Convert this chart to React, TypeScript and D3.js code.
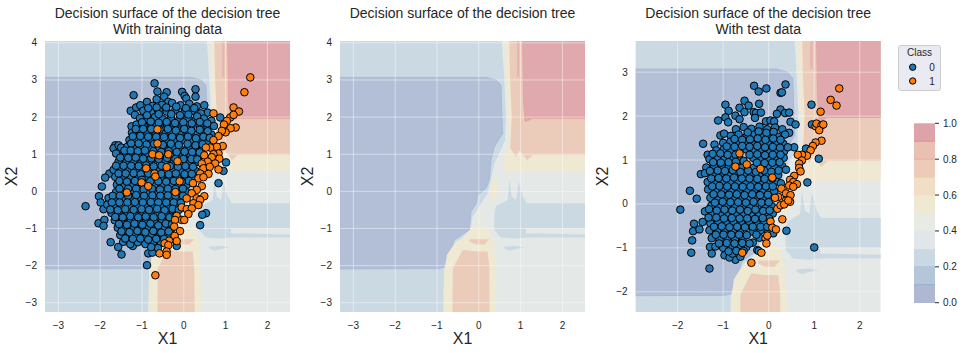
import React from "react";
import * as d3 from "d3";

type P = [number, number];

const xTicksTrain = [-3, -2, -1, 0, 1, 2];
const yTicksTrain = [-3, -2, -1, 0, 1, 2, 3, 4];
const xTicksTest = [-2, -1, 0, 1, 2];
const yTicksTest = [-2, -1, 0, 1, 2, 3];
const barTicks = [0, 0.2, 0.4, 0.6, 0.8, 1];
const barLevels = [0, 0.1, 0.2, 0.3, 0.4, 0.5, 0.6, 0.7, 0.8, 0.9, 1];
const barColors = ["#aeb8d3", "#b6c6d9", "#cad8e3", "#e1e7e8", "#e8eae4", "#efe9d3", "#f0dfc6", "#ecccb9", "#e9c1b3", "#dda3a9"];
const barLines: [number, string][] = [[0.1, "#96acd2"], [0.2, "#a8c0d8"], [0.7, "#f2cfa5"], [0.8, "#f0ac98"], [0.9, "#e48f90"]];

const C = { base: "#e4e8e7", lightBlue: "#cbd9e3", darkBlue: "#b2bfd7", cream: "#efe8d2", peach: "#ebcbb9", red: "#e0a9ad", redEdge: "#e6a39f" };

const surfLightBlue: P[] = [[0.55, 4.05], [0.61, 3.0], [0.65, 2.01], [0.63, 1.38], [0.49, 1.02], [0.37, 0.75], [0.29, 0.31], [0.21, -0.05], [0.01, -0.41], [-0.15, -0.68], [-0.19, -1.0], [-0.43, -1.29], [-0.51, -1.33], [-0.59, -1.67], [-0.75, -1.76], [-0.83, -2.12], [-0.84, -3.25], [-3.32, -3.25], [-3.32, 4.05]];
const surfDarkBlue: P[] = [[-3.32, 3.07], [0.17, 3.07], [0.41, 3.0], [0.53, 2.86], [0.55, 2.1], [0.57, 1.56], [0.37, 1.2], [0.29, 0.84], [0.25, 0.31], [0.17, 0.08], [-0.03, -0.1], [-0.06, -0.32], [-0.19, -0.55], [-0.23, -1.04], [-0.59, -1.31], [-0.67, -1.62], [-0.79, -1.71], [-0.79, -2.03], [-0.95, -2.08], [-3.32, -2.09]];
const surfCreamTop: P[] = [[0.63, 4.05], [0.65, 3.0], [0.69, 2.1], [0.73, 1.38], [0.58, 0.75], [0.61, 0.53], [2.54, 0.53], [2.54, 4.05]];
const surfPeachTop: P[] = [[0.73, 4.05], [0.75, 3.0], [0.79, 2.01], [0.75, 1.16], [0.89, 0.93], [0.97, 1.1], [1.07, 0.98], [1.15, 0.84], [1.29, 0.98], [2.54, 0.98], [2.54, 4.05]];
const surfRed: P[] = [[1.05, 4.05], [1.07, 2.46], [1.11, 1.88], [1.29, 1.97], [2.54, 1.97], [2.54, 4.05]];
const surfStripe: P[] = [[0.91, 4.05], [0.97, 4.05], [0.97, 3.07], [0.91, 3.07]];
const surfCreamBottom: P[] = [[-0.85, -3.25], [-0.83, -2.12], [-0.75, -1.69], [-0.55, -1.36], [-0.47, -1.31], [-0.23, -1.13], [-0.19, -0.95], [0.01, -0.93], [0.25, -1.0], [0.29, -1.22], [0.37, -1.4], [0.38, -1.85], [0.41, -2.3], [0.42, -3.25]];
const surfPeachBottom: P[] = [[-0.63, -3.25], [-0.62, -2.07], [-0.43, -1.67], [-0.38, -1.58], [-0.07, -1.62], [0.21, -1.62], [0.25, -2.03], [0.26, -3.25]];
const surfPeachBand: P[] = [[-0.23, -1.29], [0.25, -1.29], [0.13, -1.43], [-0.07, -1.43], [-0.22, -1.36]];
const surfCreamDot: P[] = [[0.01, -0.68], [0.17, -0.68], [0.15, -0.77], [0.03, -0.77]];
const surfCreamStrip: P[] = [[0.33, 0.35], [0.45, 0.35], [0.41, -0.28], [0.29, -0.28]];
const surfBlueRight: P[] = [[0.37, -0.59], [0.41, -0.41], [0.61, -0.28], [0.69, -0.23], [0.73, 0.31], [0.79, -0.14], [0.89, -0.23], [0.95, 0.26], [1.05, -0.14], [1.15, -0.32], [2.54, -0.32], [2.54, -1.0], [1.13, -1.0], [1.13, -1.13], [2.54, -1.16], [2.54, -1.24], [1.13, -1.24], [0.89, -1.27], [0.53, -1.24], [0.37, -1.04]];
const surfBlueSmall: P[] = [[0.61, -1.49], [0.89, -1.47], [1.09, -1.51], [0.89, -1.55], [0.73, -1.6], [0.61, -1.53]];

const surfaceLayers: [P[], string, string?][] = [
  [surfLightBlue, C.lightBlue], [surfDarkBlue, C.darkBlue, "#a9bad6"],
  [surfCreamTop, C.cream], [surfPeachTop, C.peach], [surfStripe, "#e6b6b2"], [surfRed, C.red, C.redEdge],
  [surfCreamBottom, C.cream], [surfPeachBottom, C.peach], [surfPeachBand, C.peach],
  [surfCreamDot, C.cream], [surfCreamStrip, C.cream], [surfBlueRight, C.lightBlue], [surfBlueSmall, C.lightBlue],
];

const trainBlue: P[] = [
  [-0.7, 2.91], [-0.63, 2.69], [-0.41, 2.67], [-1.2, 2.59], [-0.47, 2.55], [-0.04, 2.68], [0.02, 2.57], [0.28, 2.75], [0.28, 2.55], [0.06, 2.5], [-0.65, 2.48], [-0.88, 2.41], [-0.37, 2.41], [0.49, 2.32], [-1.27, 2.17], [-1.14, 2.26], [-1.04, 2.32], [-1.17, 2.06], [0.87, 1.99], [0.57, 2.12], [-1.25, 1.75],
  [-1.64, 1.24], [-1.68, 1.16], [-1.56, 1.24], [-1.78, 0.48], [-1.88, 0.37], [-1.96, 0.13], [-2.03, -0.13], [-1.99, -0.3], [-2.35, -0.4], [-1.92, -0.48], [-2.04, -0.86], [-1.9, -0.77], [-1.92, -0.93], [-1.75, -1.37], [-1.57, -1.5], [-1.49, -1.7], [-1.22, -1.47], [-0.88, -1.99], [-0.85, -1.67], [-0.75, -1.65], [1.01, 0.78], [0.95, 0.55], [0.83, 0.22], [0.39, -0.91], [0.53, -0.59], [-0.17, -1.47], [0.44, -0.63],
  [-0.75, 2.3], [-0.52, 2.33], [-0.28, 2.38], [-0.08, 2.32], [0.13, 2.36], [0.31, 2.29], [-0.97, 2.17], [-0.78, 2.13], [-0.6, 2.18], [-0.41, 2.15], [-0.2, 2.2], [0.02, 2.14], [0.2, 2.17], [0.41, 2.1], [-1.05, 1.97], [-0.88, 1.95], [-0.69, 2.0], [-0.5, 1.94], [-0.31, 1.98], [-0.11, 1.93], [0.09, 1.98], [0.28, 1.92], [0.48, 1.96], [0.66, 1.9],
  [-1.13, 1.8], [-0.96, 1.76], [-0.77, 1.8], [-0.58, 1.75], [-0.4, 1.79], [-0.2, 1.73], [-0.01, 1.78], [0.18, 1.73], [0.38, 1.77], [0.57, 1.72], [0.72, 1.76], [-1.24, 1.58], [-1.06, 1.6], [-0.87, 1.55], [-0.68, 1.6], [-0.49, 1.55], [-0.3, 1.59], [-0.1, 1.53], [0.09, 1.58], [0.28, 1.53], [0.47, 1.58], [0.66, 1.53],
  [-1.3, 1.38], [-1.13, 1.4], [-0.95, 1.35], [-0.77, 1.4], [-0.57, 1.34], [-0.38, 1.39], [-0.19, 1.35], [0.0, 1.39], [0.19, 1.33], [0.38, 1.38], [0.55, 1.33], [-1.5, 1.18], [-1.35, 1.2], [-1.19, 1.15], [-1.02, 1.2], [-0.83, 1.15], [-0.64, 1.19], [-0.45, 1.13], [-0.27, 1.19], [-0.08, 1.13], [0.11, 1.18], [0.3, 1.13], [0.46, 1.16],
  [-1.62, 1.02], [-1.44, 0.98], [-1.27, 1.02], [-1.09, 0.97], [-0.91, 1.01], [-0.53, 0.95], [-0.22, 0.98], [-0.03, 0.93], [0.16, 0.98], [0.35, 0.92], [-1.56, 0.8], [-1.38, 0.78], [-1.2, 0.82], [-1.02, 0.76], [-0.83, 0.81], [-0.63, 0.76], [-0.44, 0.81], [-0.25, 0.75], [-0.05, 0.8], [0.13, 0.75], [0.31, 0.79],
  [-1.68, 0.58], [-1.5, 0.6], [-1.32, 0.56], [-1.14, 0.6], [-0.97, 0.55], [-0.79, 0.58], [-0.59, 0.55], [-0.28, 0.58], [-0.09, 0.54], [0.1, 0.59], [0.28, 0.55], [-1.64, 0.39], [-1.46, 0.36], [-1.28, 0.41], [-1.1, 0.36], [-0.92, 0.4], [-0.75, 0.36], [-0.54, 0.38], [-0.35, 0.34], [-0.17, 0.4], [0.03, 0.36], [0.2, 0.39],
  [-1.6, 0.18], [-1.42, 0.16], [-1.23, 0.2], [-1.06, 0.14], [-0.7, 0.18], [-0.5, 0.14], [-0.31, 0.19], [-0.12, 0.13], [0.07, 0.18], [-1.62, -0.02], [-1.46, -0.06], [-1.19, -0.02], [-1.01, -0.06], [-0.83, -0.02], [-0.64, -0.07], [-0.45, -0.02], [-0.31, -0.05], [-0.08, -0.03], [0.06, -0.02],
  [-1.8, -0.18], [-1.6, -0.22], [-1.42, -0.18], [-1.24, -0.23], [-1.05, -0.18], [-0.86, -0.22], [-0.67, -0.18], [-0.48, -0.23], [-0.3, -0.18], [-0.11, -0.22], [-1.83, -0.36], [-1.65, -0.41], [-1.47, -0.37], [-1.28, -0.42], [-1.1, -0.37], [-0.92, -0.41], [-0.73, -0.36], [-0.55, -0.42], [-0.36, -0.37], [-0.17, -0.41],
  [-1.73, -0.58], [-1.55, -0.61], [-1.36, -0.56], [-1.18, -0.62], [-1.0, -0.57], [-0.81, -0.61], [-0.62, -0.57], [-0.43, -0.62], [-0.25, -0.57], [-1.65, -0.78], [-1.45, -0.8], [-1.27, -0.76], [-1.08, -0.82], [-0.9, -0.77], [-0.71, -0.82], [-0.52, -0.76], [-0.33, -0.8],
  [-1.58, -0.98], [-1.39, -1.0], [-1.2, -0.96], [-1.02, -1.01], [-0.83, -0.97], [-0.64, -1.02], [-0.45, -0.97], [-0.29, -1.0], [-1.52, -1.18], [-1.34, -1.2], [-1.15, -1.16], [-0.96, -1.2], [-0.77, -1.16], [-0.58, -1.21], [-0.39, -1.17], [-1.45, -1.36], [-1.28, -1.42], [-1.1, -1.37], [-0.92, -1.42], [-0.73, -1.36], [-0.55, -1.38], [-0.62, -1.53], [-0.78, -1.5],
];
const trainBlueFill: P[] = [
  [-0.85, 2.24], [-0.65, 2.26], [-0.42, 2.26], [-0.18, 2.28], [0.05, 2.24], [0.25, 2.24], [-0.88, 2.05], [-0.6, 2.08], [-0.3, 2.08], [-0.09, 2.05], [0.11, 2.07], [0.32, 2.02], [-1.0, 1.86], [-0.79, 1.88], [-0.6, 1.85], [-0.41, 1.87], [-0.21, 1.84], [-0.01, 1.86], [0.19, 1.83], [0.38, 1.87], [0.56, 1.83],
  [-1.15, 1.68], [-0.97, 1.68], [-0.78, 1.68], [-0.58, 1.66], [-0.38, 1.68], [-0.19, 1.64], [0.01, 1.68], [0.18, 1.63], [0.38, 1.66], [0.57, 1.62], [-1.22, 1.48], [-1.04, 1.49], [-0.85, 1.47], [-0.66, 1.47], [-0.47, 1.46], [-0.28, 1.47], [-0.09, 1.44], [0.1, 1.47], [0.29, 1.43], [0.47, 1.47], [0.62, 1.44],
  [-1.42, 1.1], [-1.26, 1.29], [-1.08, 1.29], [-0.89, 1.26], [-0.71, 1.28], [-0.5, 1.25], [-0.31, 1.28], [-0.12, 1.25], [0.09, 1.28], [0.28, 1.24], [0.45, 1.27], [-1.27, 1.1], [-1.1, 1.08], [-0.93, 1.1], [-0.73, 1.08], [-0.54, 1.06], [-0.36, 1.08], [-0.17, 1.06], [0.02, 1.07], [0.2, 1.06], [0.38, 1.05],
  [-1.52, 0.91], [-1.33, 0.9], [-1.15, 0.91], [-0.97, 0.88], [-0.78, 0.89], [-0.6, 0.87], [-0.4, 0.9], [-0.2, 0.87], [-0.01, 0.87], [0.18, 0.87], [0.32, 0.86], [-1.62, 0.69], [-1.44, 0.69], [-1.26, 0.69], [-1.08, 0.68], [-0.9, 0.7], [-0.72, 0.67], [-0.53, 0.69], [-0.33, 0.68], [-0.14, 0.66], [0.04, 0.68], [0.22, 0.66],
  [-1.56, 0.48], [-1.39, 0.48], [-1.2, 0.49], [-1.03, 0.46], [-0.85, 0.48], [-0.54, 0.47], [-0.36, 0.46], [-0.19, 0.48], [0.02, 0.46], [0.19, 0.47], [-1.54, 0.28], [-1.36, 0.26], [-1.17, 0.28], [-1.0, 0.31], [-0.8, 0.27], [-0.61, 0.27], [-0.42, 0.26], [-0.24, 0.28], [-0.05, 0.26], [0.12, 0.28],
  [-1.54, 0.07], [-1.33, 0.07], [-1.14, 0.07], [-0.96, 0.05], [-0.76, 0.07], [-0.57, 0.05], [-0.38, 0.07], [-0.2, 0.06], [-0.02, 0.07], [-1.7, -0.12], [-1.53, -0.12], [-1.33, -0.12], [-1.14, -0.1], [-0.95, -0.12], [-0.75, -0.11], [-0.56, -0.12], [-0.38, -0.11], [-0.2, -0.12], [-0.02, -0.12],
  [-1.72, -0.3], [-1.54, -0.3], [-1.35, -0.3], [-1.17, -0.29], [-0.98, -0.3], [-0.79, -0.29], [-0.61, -0.3], [-0.42, -0.3], [-0.24, -0.3], [-0.07, -0.31], [-1.76, -0.49], [-1.58, -0.51], [-1.4, -0.48], [-1.2, -0.5], [-1.01, -0.48], [-0.83, -0.5], [-0.64, -0.47], [-0.46, -0.51], [-0.27, -0.47], [-0.12, -0.5],
  [-1.64, -0.69], [-1.46, -0.7], [-1.28, -0.67], [-1.09, -0.7], [-0.91, -0.68], [-0.72, -0.7], [-0.53, -0.67], [-0.34, -0.7], [-0.2, -0.66], [-1.55, -0.88], [-1.36, -0.9], [-1.18, -0.87], [-0.99, -0.9], [-0.8, -0.87], [-0.61, -0.92], [-0.43, -0.87], [-0.28, -0.89], [-1.49, -1.08], [-1.3, -1.1], [-1.11, -1.07], [-0.92, -1.1], [-0.73, -1.07], [-0.54, -1.11], [-0.36, -1.08],
  [-1.4, -1.27], [-1.22, -1.28], [-1.04, -1.27], [-0.85, -1.3], [-0.66, -1.28], [-0.47, -1.28],
];
const trainOrange: P[] = [
  [1.59, 3.07], [1.45, 2.67], [0.71, 2.1], [1.19, 2.26], [1.32, 2.15], [1.11, 1.99], [1.19, 2.06], [1.03, 1.9], [0.96, 1.8], [1.24, 1.72], [1.12, 1.7], [1.0, 1.59], [0.91, 1.63], [0.83, 1.49], [0.71, 1.38], [0.93, 1.22], [0.79, 1.2], [0.63, 1.18], [0.53, 1.18], [0.83, 1.02], [0.71, 1.0], [0.49, 0.97], [0.85, 0.88], [0.67, 0.92], [0.57, 0.8], [0.75, 0.75], [0.43, 0.75], [0.47, 0.62], [0.62, 0.66], [0.83, 0.59], [0.39, 0.48], [0.59, 0.47], [0.35, 0.35], [0.47, 0.38], [0.22, 0.22], [0.43, 0.14], [0.31, 0.04], [0.19, -0.05], [0.49, -0.13], [0.31, -0.19], [0.07, -0.19], [0.39, -0.23], [0.23, -0.32], [-0.05, -0.43], [0.35, -0.37], [0.07, -0.48], [0.19, -0.46], [-0.17, -0.66], [-0.05, -0.77], [0.11, -0.61], [0.01, -0.77], [-0.21, -0.77], [-0.23, -0.95], [-0.09, -1.07], [-0.22, -1.2], [-0.17, -1.34], [-0.35, -1.33], [-0.46, -1.4], [-0.37, -1.45], [-0.58, -1.67], [-0.41, -1.62], [-0.41, -1.71], [-0.68, -2.26],
  [-0.63, 1.67], [-0.63, 1.29], [-0.75, 1.0], [-0.59, 0.97], [-0.37, 1.0], [-0.15, 0.81], [-0.9, 0.62], [-0.41, 0.65], [-0.7, 0.48], [-0.68, 0.4], [-1.01, 0.24], [-0.85, 0.14], [-0.1, 0.27], [-1.36, -0.03], [-0.2, -0.02],
];
const testBlue: P[] = [
  [-0.32, 2.69], [-0.22, 2.56], [-0.05, 2.63], [0.37, 2.72], [0.26, 2.53], [0.29, 2.54], [0.94, 2.26], [-0.53, 2.35], [-0.21, 2.28], [-0.95, 2.26], [-0.44, 2.24], [-0.64, 2.19], [-0.88, 2.12], [-0.53, 2.09], [-0.33, 2.09], [-1.11, 1.9], [-0.95, 1.97], [-0.89, 1.86], [-0.73, 2.01], [-0.64, 1.93], [0.26, 2.15], [0.18, 2.05], [0.36, 2.07], [0.45, 2.08], [0.48, 1.87], [0.59, 1.81], [0.95, 1.81], [0.45, 1.62], [-1.06, 1.56], [-1.44, 1.37], [-1.19, 1.35], [0.56, 1.29], [0.82, 1.26], [1.1, 1.03], [0.85, 0.49], [-1.49, 0.68], [-1.73, 0.3], [-1.58, 0.12], [-1.94, -0.13], [-1.64, -0.45], [-1.66, -0.62], [-1.52, -0.58], [-1.68, -0.83], [-1.7, -1.11], [-1.3, -1.47], [-1.29, -0.98], [-1.25, -1.13], [-0.73, -1.27], [1.0, -0.99], [0.39, -0.61], [-0.25, -1.05], [-0.35, -0.88],
  [-0.28, 2.07], [-0.17, 2.08], [-0.06, 1.88], [0.04, 1.9], [0.12, 1.88], [-0.3, 1.96],
  [-0.72, 1.7], [-0.55, 1.75], [-0.38, 1.71], [-0.2, 1.76], [-0.03, 1.7], [0.14, 1.74], [0.3, 1.7], [-0.98, 1.6], [-0.83, 1.55], [-0.66, 1.58], [-0.49, 1.53], [-0.31, 1.58], [-0.14, 1.54], [0.03, 1.59], [0.2, 1.53], [0.36, 1.58],
  [-1.0, 1.39], [-0.84, 1.42], [-0.68, 1.38], [-0.51, 1.41], [-0.35, 1.36], [-0.18, 1.4], [-0.01, 1.36], [0.16, 1.41], [0.32, 1.37], [-1.15, 1.22], [-0.98, 1.25], [-0.82, 1.21], [-0.49, 1.24], [-0.33, 1.2], [-0.16, 1.25], [0.01, 1.2], [0.18, 1.24], [0.34, 1.2], [0.42, 1.29],
  [-1.34, 1.12], [-1.3, 1.02], [-1.13, 1.07], [-0.97, 1.02], [-0.8, 1.06], [-0.63, 1.01], [-0.34, 1.05], [-0.17, 1.0], [0.0, 1.05], [0.16, 1.01], [0.33, 1.05], [-1.37, 0.83], [-1.2, 0.87], [-1.03, 0.82], [-0.87, 0.86], [-0.6, 0.82], [-0.33, 0.82], [-0.02, 0.86], [0.13, 0.82], [0.3, 0.86], [0.38, 0.78],
  [-1.4, 0.7], [-1.22, 0.66], [-1.05, 0.7], [-0.88, 0.65], [-0.71, 0.7], [-0.54, 0.65], [-0.37, 0.7], [-0.2, 0.65], [-0.04, 0.69], [0.21, 0.66], [-1.34, 0.5], [-1.18, 0.47], [-1.01, 0.52], [-0.84, 0.47], [-0.67, 0.51], [-0.5, 0.46], [-0.33, 0.5], [-0.16, 0.46], [0.01, 0.48], [0.16, 0.51], [0.27, 0.47],
  [-1.33, 0.33], [-1.16, 0.29], [-0.99, 0.33], [-0.82, 0.28], [-0.65, 0.32], [-0.48, 0.28], [-0.31, 0.33], [-0.14, 0.27], [0.03, 0.31], [0.12, 0.28], [-1.28, 0.14], [-1.11, 0.1], [-0.94, 0.15], [-0.77, 0.1], [-0.6, 0.14], [-0.43, 0.09], [-0.26, 0.14], [-0.09, 0.1], [0.05, 0.15],
  [-1.26, -0.04], [-1.09, -0.08], [-0.92, -0.03], [-0.75, -0.08], [-0.58, -0.04], [-0.41, -0.09], [-0.24, -0.04], [-0.07, -0.09], [0.07, -0.05], [-1.4, -0.17], [-1.23, -0.22], [-1.06, -0.26], [-0.89, -0.21], [-0.72, -0.26], [-0.55, -0.22], [-0.38, -0.27], [-0.21, -0.22], [-0.04, -0.26], [0.09, -0.22],
  [-1.45, -0.41], [-1.28, -0.44], [-1.11, -0.39], [-0.94, -0.44], [-0.77, -0.4], [-0.6, -0.45], [-0.43, -0.4], [-0.26, -0.45], [-0.1, -0.4], [0.01, -0.33], [-1.3, -0.6], [-1.13, -0.62], [-0.96, -0.58], [-0.79, -0.63], [-0.62, -0.58], [-0.35, -0.63], [-0.18, -0.6], [-0.01, -0.64], [0.1, -0.67],
  [-1.25, -0.78], [-1.08, -0.82], [-0.91, -0.77], [-0.74, -0.82], [-0.57, -0.78], [-0.2, -0.77], [-1.17, -0.97], [-1.0, -1.0], [-0.83, -0.96], [-0.66, -1.0], [-0.49, -0.98], [-0.97, -1.17], [-0.86, -1.22], [-0.79, -1.13], [-0.62, -1.2], [-0.22, -1.07],
];
const testBlueFill: P[] = [
  [-0.46, 1.63], [-0.22, 1.65], [-0.05, 1.62], [0.11, 1.64], [-0.75, 1.48], [-0.58, 1.46], [-0.41, 1.47], [-0.24, 1.49], [-0.07, 1.46], [0.1, 1.49], [0.26, 1.46], [-0.92, 1.31], [-0.75, 1.3], [-0.58, 1.32], [-0.42, 1.3], [-0.25, 1.32], [-0.08, 1.29], [0.09, 1.3], [0.25, 1.28],
  [-1.23, 1.14], [-1.06, 1.15], [-0.9, 1.12], [-0.73, 1.12], [-0.42, 1.12], [-0.25, 1.13], [-0.08, 1.11], [0.09, 1.12], [0.26, 1.12], [-1.22, 0.95], [-1.05, 0.94], [-0.88, 0.95], [-0.72, 0.96], [-0.55, 0.98], [-0.26, 0.94], [-0.09, 0.93], [0.08, 0.94], [0.24, 0.95],
  [-1.29, 0.75], [-1.12, 0.76], [-0.96, 0.75], [-0.79, 0.77], [-0.62, 0.73], [-0.45, 0.76], [-0.28, 0.73], [-0.1, 0.76], [0.06, 0.73], [0.22, 0.76], [-1.26, 0.58], [-1.1, 0.59], [-0.93, 0.58], [-0.76, 0.6], [-0.59, 0.58], [-0.42, 0.58], [-0.25, 0.57], [-0.09, 0.57], [0.08, 0.58],
  [-1.24, 0.4], [-1.08, 0.41], [-0.91, 0.4], [-0.74, 0.4], [-0.57, 0.39], [-0.4, 0.4], [-0.23, 0.39], [-0.06, 0.4], [0.09, 0.4], [-1.21, 0.22], [-1.04, 0.22], [-0.87, 0.21], [-0.7, 0.22], [-0.53, 0.2], [-0.36, 0.22], [-0.19, 0.2], [-0.02, 0.21],
  [-1.18, 0.03], [-1.01, 0.05], [-0.84, 0.04], [-0.67, 0.04], [-0.5, 0.03], [-0.33, 0.05], [-0.16, 0.03], [0.0, 0.04], [-1.31, -0.12], [-1.14, -0.15], [-0.97, -0.13], [-0.8, -0.15], [-0.63, -0.13], [-0.46, -0.16], [-0.29, -0.13], [-0.12, -0.16], [0.02, -0.15],
  [-1.32, -0.31], [-1.15, -0.31], [-0.98, -0.33], [-0.81, -0.32], [-0.64, -0.33], [-0.47, -0.33], [-0.3, -0.34], [-0.13, -0.32], [-1.2, -0.52], [-1.03, -0.51], [-0.86, -0.53], [-0.69, -0.52], [-0.52, -0.53], [-0.35, -0.52], [-0.18, -0.52], [-0.03, -0.52], [-1.16, -0.7], [-0.99, -0.7], [-0.82, -0.7], [-0.65, -0.7], [-0.48, -0.71], [-0.27, -0.7],
  [-1.09, -0.9], [-0.92, -0.89], [-0.75, -0.9], [-0.58, -0.89], [-0.42, -0.9], [-0.88, -1.08], [-0.71, -1.07], [-0.55, -1.07],
];
const testOrange: P[] = [
  [1.55, 2.63], [1.36, 2.37], [1.49, 2.24], [1.14, 2.1], [1.03, 1.77], [1.05, 1.83], [1.16, 1.79], [1.11, 1.68], [1.2, 1.81], [1.16, 1.44], [1.03, 1.4], [0.97, 1.32], [0.92, 1.22], [0.84, 1.1], [0.73, 1.12], [0.64, 1.12], [0.73, 0.99], [0.67, 0.92], [0.67, 0.82], [0.7, 0.74], [0.56, 0.64], [0.47, 0.55], [0.54, 0.5], [0.62, 0.45], [0.45, 0.42], [0.54, 0.39], [0.28, 0.35], [0.38, 0.24], [0.48, 0.2], [0.47, 0.05], [0.38, 0.08], [0.21, 0.16], [0.14, 0.14], [0.19, -0.11], [0.26, -0.03], [0.34, -0.01], [0.43, 0.08], [0.3, -0.35], [0.04, -0.4], [0.08, -0.54], [0.16, -0.58], [-0.07, -0.78], [-0.05, -0.9], [-0.03, -0.72], [-0.58, -1.11], [-0.16, -1.11], [-0.38, -1.34],
  [-0.64, 1.15], [-0.73, 0.85], [-0.48, 0.9], [-0.18, 0.8], [0.08, 0.6],
];

const FONT = "'Liberation Sans', Arial, sans-serif";
const INK = "#262626";
const TOP = 41, BOTTOM = 312;
const line = d3.line<P>();
const MINUS = (v: number) => String(v).replace("-", "\u2212");

type PanelProps = {
  id: string; left: number; xDomain: [number, number]; yDomain: [number, number];
  xTicks: number[]; yTicks: number[]; title: string[]; ylabelX: number;
  blue?: P[]; orange?: P[];
};

function Panel({ id, left, xDomain, yDomain, xTicks, yTicks, title, ylabelX, blue = [], orange = [] }: PanelProps) {
  const right = left + 245;
  const x = d3.scaleLinear().domain(xDomain).range([left, right]);
  const y = d3.scaleLinear().domain(yDomain).range([BOTTOM, TOP]);
  const cx = (left + right) / 2;
  const project = (pts: P[]) => line(pts.map(([a, b]) => [x(a), y(b)] as P)) + "Z";
  return (
    <g fontFamily={FONT}>
      <clipPath id={id}><rect x={left} y={TOP} width={245} height={BOTTOM - TOP} /></clipPath>
      <g clipPath={`url(#${id})`}>
        <rect x={left} y={TOP} width={245} height={BOTTOM - TOP} fill={C.base} />
        {surfaceLayers.map(([pts, fill, edge], i) => (
          <path key={i} d={project(pts)} fill={fill} stroke={edge ?? "none"} strokeWidth={edge ? 1 : 0} />
        ))}
      </g>
      {xTicks.map((t) => <line key={t} x1={x(t)} x2={x(t)} y1={TOP} y2={BOTTOM} stroke="#fff" strokeOpacity={0.45} strokeWidth={1} />)}
      {yTicks.map((t) => <line key={t} x1={left} x2={right} y1={y(t)} y2={y(t)} stroke="#fff" strokeOpacity={0.45} strokeWidth={1} />)}
      {xTicks.map((t) => <text key={t} x={x(t)} y={329} textAnchor="middle" fontSize={10} fill={INK}>{MINUS(t)}</text>)}
      {yTicks.map((t) => <text key={t} x={left - 8} y={y(t) + 3.5} textAnchor="end" fontSize={10} fill={INK}>{MINUS(t)}</text>)}
      {title.map((s, i) => <text key={i} x={cx} y={18 + i * 16} textAnchor="middle" fontSize={14} fill={INK}>{s}</text>)}
      <text x={cx} y={344} textAnchor="middle" fontSize={16} fill={INK}>X1</text>
      <text transform={`translate(${ylabelX},176.5) rotate(-90)`} textAnchor="middle" fontSize={16} fill={INK}>X2</text>
      {blue.map(([a, b], i) => <circle key={i} cx={x(a)} cy={y(b)} r={3.8} fill="#1f77b4" stroke="#000" strokeWidth={1} />)}
      {orange.map(([a, b], i) => <circle key={i} cx={x(a)} cy={y(b)} r={3.8} fill="#ff7f0e" stroke="#000" strokeWidth={1} />)}
    </g>
  );
}

function Legend() {
  return (
    <g fontFamily={FONT} fontSize={10} fill={INK}>
      <rect x={898.5} y={45.5} width={42} height={45} rx={2.5} fill="#eaeaf2" stroke="#cccccc" strokeWidth={1} />
      <text x={919.5} y={56} textAnchor="middle">Class</text>
      <circle cx={912.7} cy={67.2} r={3.2} fill="#1f77b4" stroke="#000" />
      <circle cx={912.7} cy={81} r={3.2} fill="#ff7f0e" stroke="#000" />
      <text x={932} y={70.5} textAnchor="middle">0</text>
      <text x={932} y={84.5} textAnchor="middle">1</text>
    </g>
  );
}

function ColorBar() {
  const y = d3.scaleLinear().domain([0, 1]).range([302.7, 123.3]);
  return (
    <g fontFamily={FONT}>
      {barColors.map((c, i) => (
        <rect key={i} x={914} width={21} y={y(barLevels[i + 1])} height={y(barLevels[i]) - y(barLevels[i + 1]) + 0.3} fill={c} />
      ))}
      {barLines.map(([v, c]) => <line key={v} x1={914} x2={935} y1={y(v)} y2={y(v)} stroke={c} strokeWidth={1} />)}
      {barTicks.map((t) => (
        <g key={t}>
          <line x1={935} x2={939} y1={y(t)} y2={y(t)} stroke={INK} strokeWidth={1} />
          <text x={943} y={y(t) + 3.5} fontSize={10} fill={INK}>{t.toFixed(1)}</text>
        </g>
      ))}
    </g>
  );
}

export default function App() {
  return (
    <svg width={962} height={353} style={{ position: "absolute", left: 0, top: 0, background: "#fff" }}>
      <Panel id="c1" left={45} xDomain={[-3.32, 2.54]} yDomain={[-3.25, 4.05]} xTicks={xTicksTrain} yTicks={yTicksTrain}
        title={["Decision surface of the decision tree", "With training data"]} ylabelX={17} blue={[...trainBlue, ...trainBlueFill]} orange={trainOrange} />
      <Panel id="c2" left={340} xDomain={[-3.32, 2.54]} yDomain={[-3.25, 4.05]} xTicks={xTicksTrain} yTicks={yTicksTrain}
        title={["Decision surface of the decision tree"]} ylabelX={313} />
      <Panel id="c3" left={635.7} xDomain={[-2.92, 2.46]} yDomain={[-2.46, 3.71]} xTicks={xTicksTest} yTicks={yTicksTest}
        title={["Decision surface of the decision tree", "With test data"]} ylabelX={608} blue={[...testBlue, ...testBlueFill]} orange={testOrange} />
      <Legend />
      <ColorBar />
    </svg>
  );
}
